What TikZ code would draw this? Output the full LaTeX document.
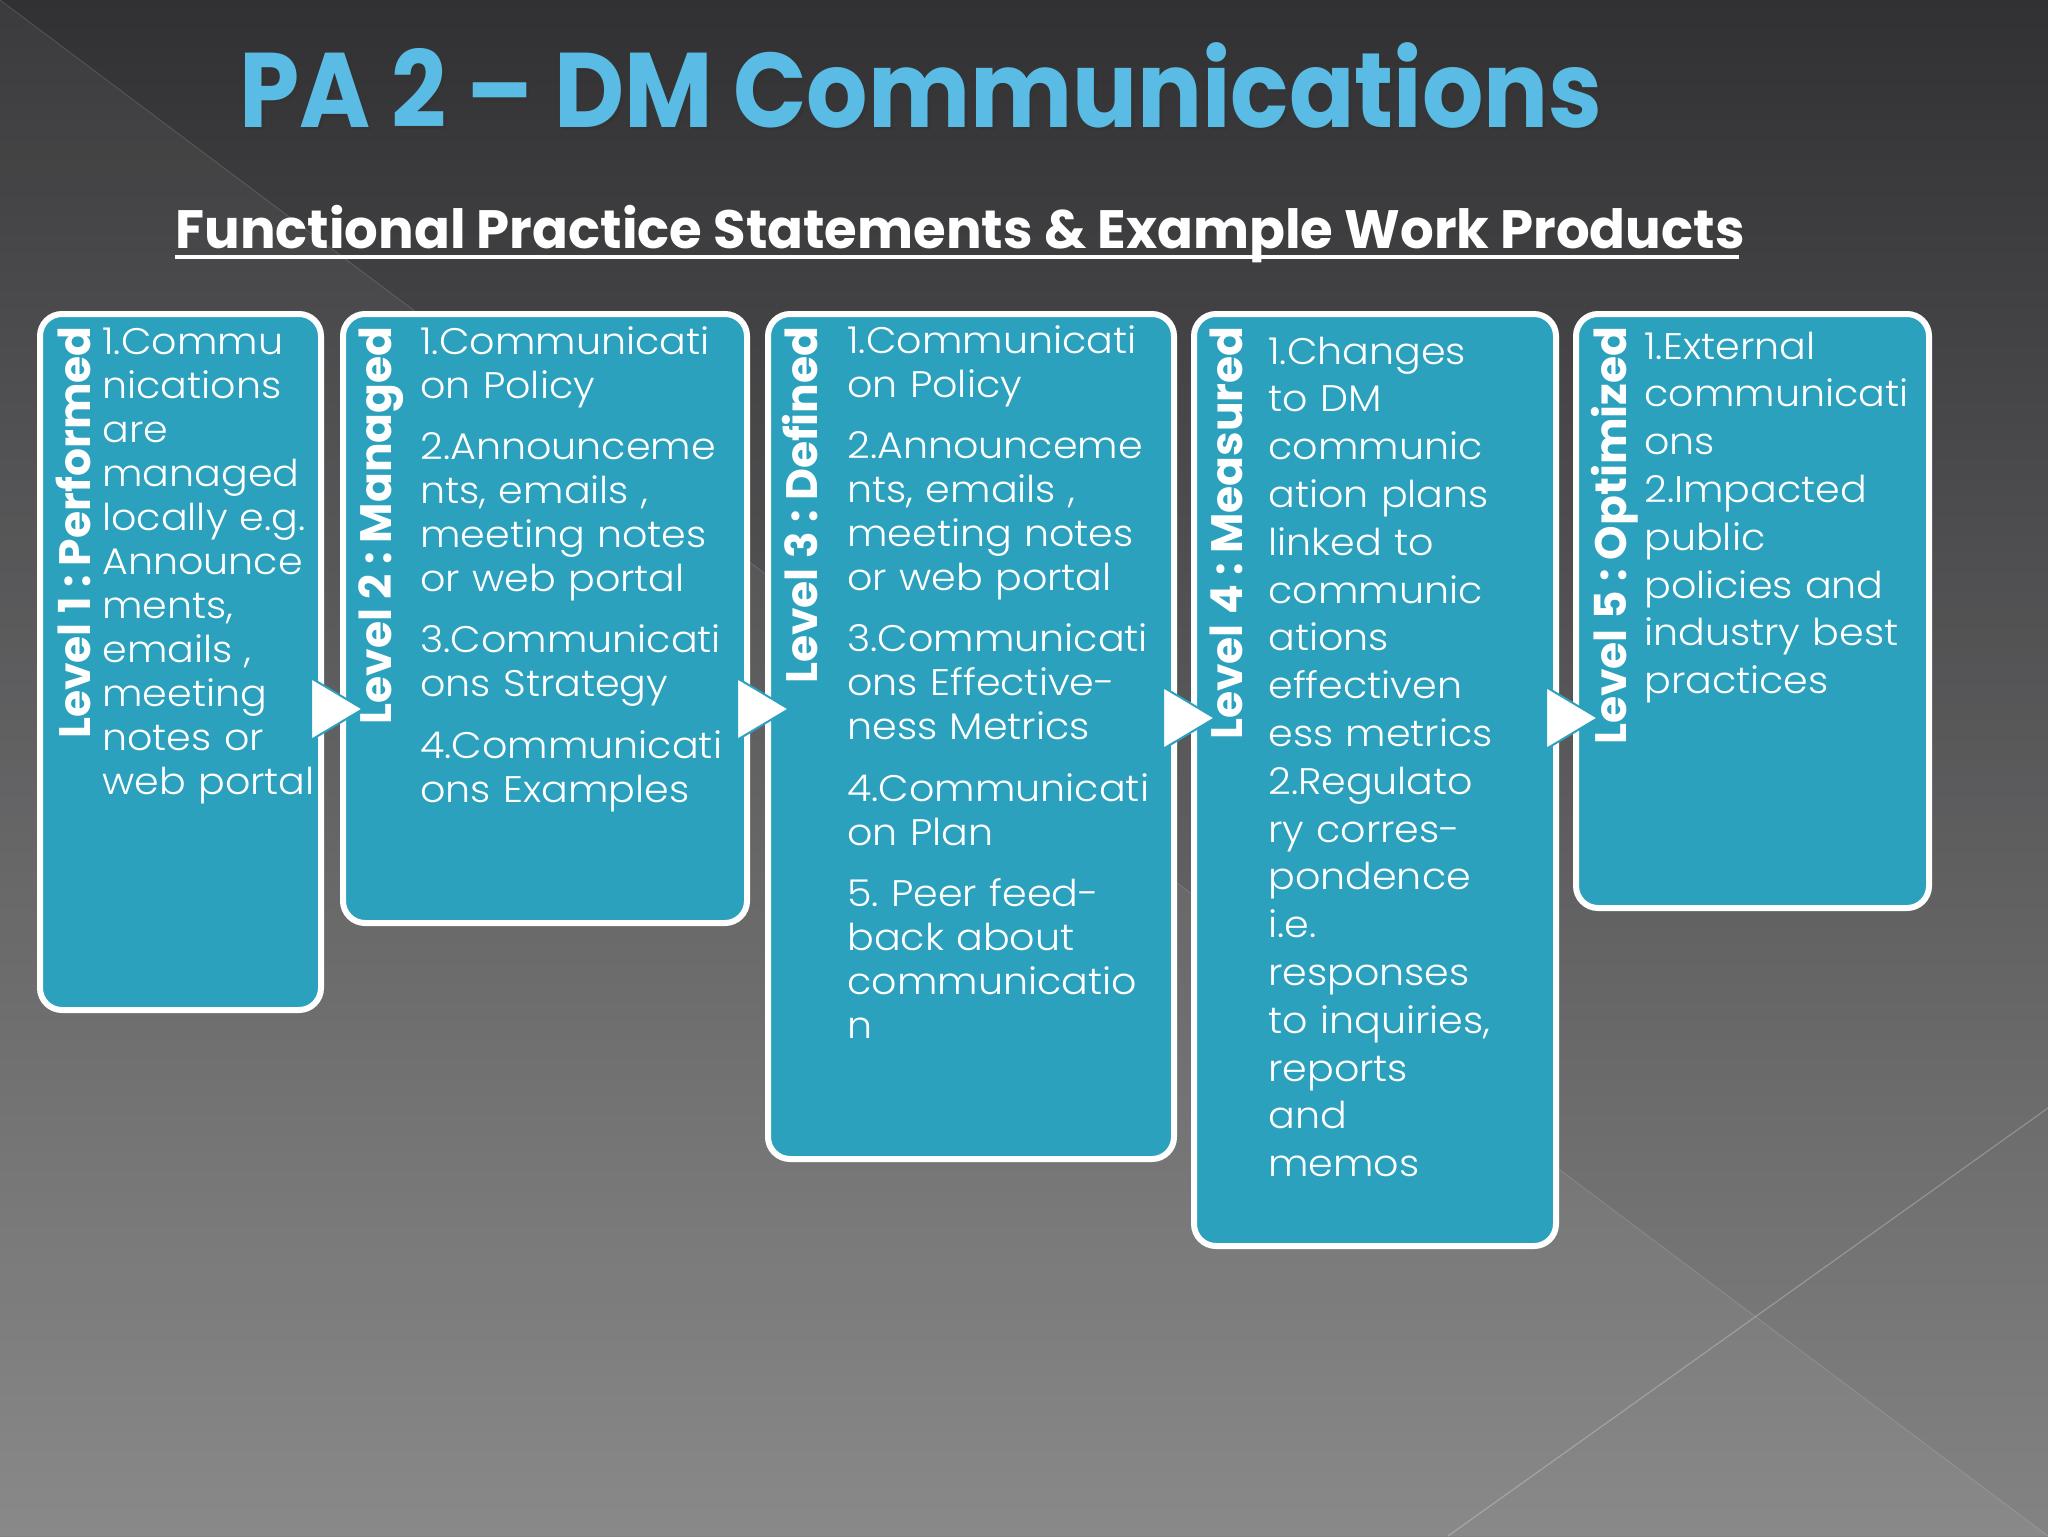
\documentclass[tikz,border=0pt]{standalone}
\usepackage{fontspec}
\setmainfont{Poppins}
\newfontfamily\titlefont{Poppins}[FakeStretch=0.91]
\newfontfamily\subfont{Poppins}[FakeStretch=0.98]
\newfontfamily\bodyfont{Poppins Light}[FakeStretch=1.07]
\definecolor{bgtop}{RGB}{49,49,51}
\definecolor{bgbot}{RGB}{131,131,132}
\definecolor{lvlblue}{RGB}{44,161,190}
\definecolor{titleblue}{RGB}{90,188,228}
\frenchspacing

\begin{document}
\begin{tikzpicture}[x=0.5pt, y=-0.5pt,
  lvlbox/.style={draw=white, line width=3pt, fill=lvlblue, rounded corners=11pt, anchor=north west, inner sep=0pt},
  lvlname/.style={rotate=90, anchor=base east, text=white, inner sep=0pt, font=\bfseries\fontsize{22}{22}\selectfont},
  lvltext/.style={anchor=base west, text=white, align=left, text width=230pt, inner sep=0pt, font=\bodyfont\fontsize{18.5}{22}\selectfont},
  lvlarrow/.style={fill=white, draw=lvlblue, line width=1pt, line join=round}]
\useasboundingbox (0,0) rectangle (2048,1536);

% background
\shade[top color=bgtop, bottom color=bgbot] (0,0) rectangle (2048,1536);
\fill[white, opacity=0.05] (0,0) -- (2048,1536) -- (0,1536) -- cycle;
\draw[white, opacity=0.12, line width=0.5pt] (0,0) -- (2048,1536);
\draw[white, opacity=0.25, line width=0.6pt] (2048,1108) -- (1448,1536);

% title
\node[anchor=base west, inner sep=0pt, text=black!80, opacity=0.6, font=\titlefont\bfseries\fontsize{53}{53}\selectfont] (titleshadow) at (242,130) {PA 2 – DM Communications};
\node[anchor=base west, inner sep=0pt, text=titleblue, font=\titlefont\bfseries\fontsize{53}{53}\selectfont] (title) at (239,127) {PA 2 – DM Communications};
\node[anchor=base west, inner sep=0pt, text=white, font=\subfont\bfseries\fontsize{27}{27}\selectfont] (subtitle) at (175,248) {Functional Practice Statements \& Example Work Products};
\draw[white, line width=2pt] (175,257) -- (1739,257);

% level boxes
\node[lvlbox, minimum width=140.5pt, minimum height=348pt] (box1) at (37,311) {};
\node[lvlbox, minimum width=202pt, minimum height=304.5pt] (box2) at (340,311) {};
\node[lvlbox, minimum width=203pt, minimum height=422.5pt] (box3) at (765,311) {};
\node[lvlbox, minimum width=181pt, minimum height=466pt] (box4) at (1191,311) {};
\node[lvlbox, minimum width=176.5pt, minimum height=297pt] (box5) at (1573,311) {};

% arrows between levels
\filldraw[lvlarrow] (311,678) -- (363,709) -- (311,740) -- cycle;
\filldraw[lvlarrow] (737,678) -- (789,709) -- (737,740) -- cycle;
\filldraw[lvlarrow] (1163,687) -- (1215,718) -- (1163,749) -- cycle;
\filldraw[lvlarrow] (1546,687) -- (1598,718) -- (1546,749) -- cycle;

% level names
\node[lvlname] (name1) at (90,326) {Level 1 : Performed};
\node[lvlname] (name2) at (391,326) {Level 2 : Managed};
\node[lvlname] (name3) at (817,326) {Level 3 : Defined};
\node[lvlname] (name4) at (1242,326) {Level 4 : Measured};
\node[lvlname] (name5) at (1626,326) {Level 5 : Optimized};

% practice statements
\node[lvltext] (text1) at (102,354) {1.Commu\\nications\\are\\managed\\locally e.g.\\Announce\\ments,\\emails ,\\meeting\\notes or\\web portal};
\node[lvltext] (text2) at (420,354) {1.Communicati\\on Policy\\[8.7pt]
  2.Announceme\\nts, emails ,\\meeting notes\\or web portal\\[8.7pt]
  3.Communicati\\ons Strategy\\[8.7pt]
  4.Communicati\\ons Examples};
\node[lvltext] (text3) at (847,353) {1.Communicati\\on Policy\\[8.7pt]
  2.Announceme\\nts, emails ,\\meeting notes\\or web portal\\[8.7pt]
  3.Communicati\\ons Effective-\\ness Metrics\\[8.7pt]
  4.Communicati\\on Plan\\[8.7pt]
  5. Peer feed-\\back about\\communicatio\\n};
\node[lvltext, font=\bodyfont\fontsize{18.5}{23.9}\selectfont] (text4) at (1268,364) {1.Changes\\to DM\\communic\\ation plans\\linked to\\communic\\ations\\effectiven\\ess metrics\\2.Regulato\\ry corres-\\pondence\\i.e.\\responses\\to inquiries,\\reports\\and\\memos};
\node[lvltext, font=\bodyfont\fontsize{18.5}{23.9}\selectfont] (text5) at (1644,359) {1.External\\communicati\\ons\\2.Impacted\\public\\policies and\\industry best\\practices};

\end{tikzpicture}
\end{document}
